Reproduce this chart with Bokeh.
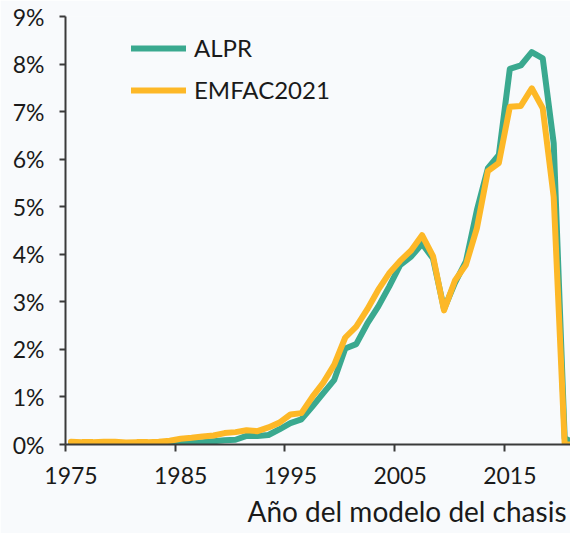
from bokeh.plotting import figure
from bokeh.models import (ColumnDataSource, LinearAxis, FixedTicker, PrintfTickFormatter,
                          Range1d, Title, Legend, LegendItem)
from bokeh.embed import file_html
from bokeh.resources import INLINE

# ---- data ----
years = list(range(1975, 2022))
alpr = [0.01, 0.00, 0.00, 0.00, 0.00, 0.00, 0.00, 0.00, 0.00, 0.01,
        0.02, 0.03, 0.05, 0.07, 0.09, 0.10, 0.18, 0.18, 0.20, 0.32,
        0.45, 0.53, 0.80, 1.08, 1.36, 2.02, 2.11, 2.54, 2.90, 3.32,
        3.77, 3.95, 4.22, 3.91, 2.85, 3.40, 3.85, 4.93, 5.81, 6.09,
        7.90, 7.97, 8.25, 8.12, 6.33, 0.13, 0.02]
emfac = [0.06, 0.05, 0.05, 0.06, 0.06, 0.04, 0.05, 0.05, 0.06, 0.08,
         0.12, 0.14, 0.17, 0.19, 0.24, 0.26, 0.30, 0.28, 0.36, 0.46,
         0.63, 0.66, 1.00, 1.30, 1.68, 2.25, 2.48, 2.84, 3.25, 3.60,
         3.86, 4.08, 4.40, 3.96, 2.82, 3.45, 3.78, 4.55, 5.75, 5.92,
         7.10, 7.12, 7.49, 7.07, 5.20, 0.00, 0.00]
series_names = ["ALPR", "EMFAC2021"]
label_years = [1975, 1985, 1995, 2005, 2015]
y_ticks = list(range(0, 10))
x_title = "Año del modelo del chasis"

FONT = "Lato"
BG = "#f8fafc"
AXC = "#3a3a3a"
TXT = "#1a1a1a"
C_ALPR = "#3aa98f"
C_EMFAC = "#fdb827"

src = ColumnDataSource(dict(year=years, alpr=alpr, emfac=emfac))

p = figure(width=570, height=533, output_backend="svg", toolbar_location=None,
           x_axis_location=None, y_axis_location=None,
           x_range=Range1d(1974.5, 2020.53), y_range=Range1d(0, 9),
           min_border_left=65, min_border_right=0, min_border_top=16,
           min_border_bottom=89, background_fill_color=BG, border_fill_color=BG,
           outline_line_color=None)
p.grid.visible = False

# y axis
yax = LinearAxis(ticker=FixedTicker(ticks=y_ticks), formatter=PrintfTickFormatter(format="%d%%"))
yax.axis_line_color = AXC
yax.axis_line_width = 2
yax.major_tick_line_color = AXC
yax.major_tick_line_width = 2
yax.major_tick_in = 0
yax.major_tick_out = 6
yax.minor_tick_line_color = None
yax.major_label_standoff = 15
yax.major_label_text_font = FONT
yax.major_label_text_font_size = "23px"
yax.major_label_text_color = TXT
p.add_layout(yax, "left")

# x axis: labels centred on categories, tick marks at category boundaries
boundary_ticks = [y - 0.5 for y in label_years] + [label_years[-1] + 9.5]
xax = LinearAxis(ticker=FixedTicker(ticks=label_years, minor_ticks=boundary_ticks))
xax.axis_line_color = AXC
xax.axis_line_width = 2
xax.major_tick_line_color = None
xax.major_tick_in = 0
xax.major_tick_out = 7
xax.minor_tick_line_color = AXC
xax.minor_tick_line_width = 2
xax.minor_tick_in = 0
xax.minor_tick_out = 7
xax.major_label_standoff = 15
xax.major_label_text_font = FONT
xax.major_label_text_font_size = "23px"
xax.major_label_text_color = TXT
xax.major_label_text_line_height = 1.0
p.add_layout(xax, "below")

title = Title(text=x_title, align="right", text_font=FONT, text_font_size="28px",
              text_font_style="normal", text_color=TXT, text_line_height=0.8,
              offset=4, standoff=10)
p.add_layout(title, "below")

r1 = p.line("year", "alpr", source=src, line_color=C_ALPR, line_width=6,
            line_join="round", line_cap="round")
r2 = p.line("year", "emfac", source=src, line_color=C_EMFAC, line_width=6,
            line_join="round", line_cap="round")

leg = Legend(items=[LegendItem(label=series_names[0], renderers=[r1]),
                    LegendItem(label=series_names[1], renderers=[r2])],
             location=(66, 340))
leg.background_fill_alpha = 0
leg.border_line_color = None
leg.padding = 0
leg.margin = 0
leg.spacing = 13
leg.glyph_width = 55
leg.glyph_height = 26
leg.label_height = 26
leg.label_standoff = 8
leg.label_text_font = FONT
leg.label_text_font_size = "24px"
leg.label_text_color = TXT
p.add_layout(leg, "center")

open("out.html", "w").write(file_html(p, INLINE))
